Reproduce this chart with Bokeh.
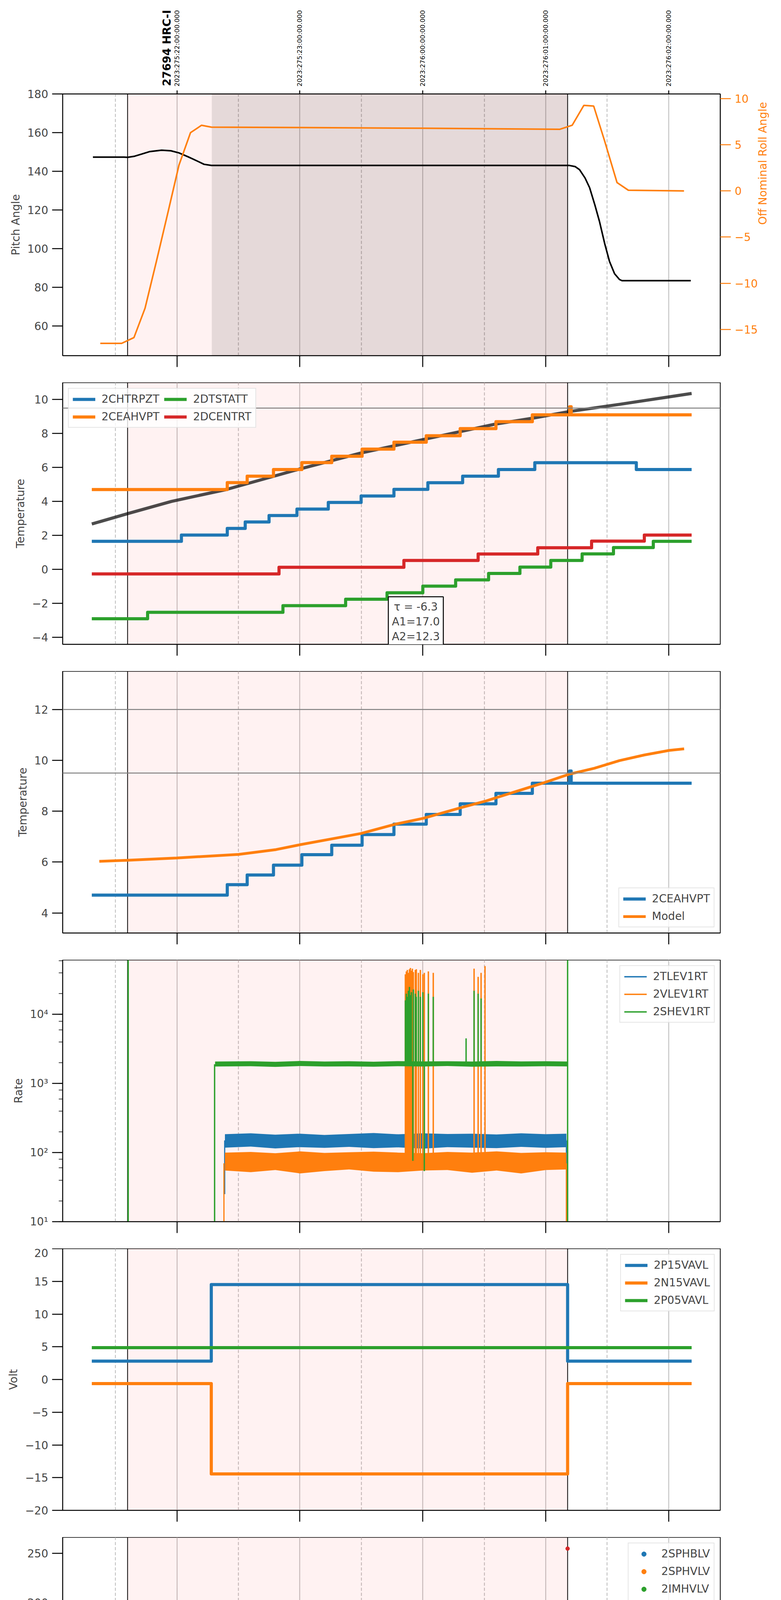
import math
from bokeh.plotting import figure
from bokeh.layouts import column
from bokeh.core.properties import value
from bokeh.models import (Range1d, LinearAxis, LogAxis, FixedTicker, LogTicker, Grid, Span,
                          BoxAnnotation, Legend, LegendItem, Label)
from bokeh.embed import file_html
from bokeh.resources import INLINE

# ---------------------------------------------------------------- data
HOURS = [18, 19, 20, 21, 22]
HALF_HOURS = [17.5, 18.5, 19.5, 20.5, 21.5]
HOUR_LABELS = ["18h", "19h", "20h", "21h", "22h"]
HALF_LABELS = ["30", "30", "30", "30", "30"]
UTC_LABELS = ["2023:275:22:00:00.000", "2023:275:23:00:00.000", "2023:276:00:00:00.000",
              "2023:276:01:00:00.000", "2023:276:02:00:00.000"]
X_LABEL = "2023-10-02 (275)"
OBS_START, OBS_END = 17.598, 21.178
DARK_START = 18.283
OBS_LABEL = "27694 HRC-I"
OBS_LABEL_X = 17.919

pitch_t = [17.316, 17.57, 17.598, 17.65, 17.713, 17.78, 17.875, 17.95, 18.016, 18.09, 18.158, 18.22,
           18.28, 21.193, 21.24, 21.275, 21.32, 21.357, 21.40, 21.437, 21.48, 21.519, 21.56, 21.60,
           21.62, 22.18]
pitch_v = [147.3, 147.3, 147.2, 147.7, 148.9, 150.2, 150.9, 150.6, 149.5, 147.5, 145.5, 143.6,
           143.0, 143.0, 142.4, 140.8, 136.5, 131.5, 122.5, 114.1, 102.5, 93.3, 87.0, 84.0,
           83.4, 83.4]
roll_t = [17.376, 17.55, 17.65, 17.74, 17.833, 17.927, 18.016, 18.11, 18.2, 18.28, 19.0, 20.0,
          21.113, 21.215, 21.31, 21.39, 21.478, 21.58, 21.672, 22.125]
roll_v = [-16.5, -16.5, -15.87, -12.7, -7.6, -2.3, 2.78, 6.3, 7.1, 6.9, 6.85, 6.78,
          6.66, 7.1, 9.25, 9.18, 5.45, 0.9, 0.07, 0.0]
PITCH_TICKS = [60, 80, 100, 120, 140, 160, 180]
ROLL_TICKS = [-15, -10, -5, 0, 5, 10]

model_t = [17.307, 17.599, 17.955, 18.40, 18.968, 19.494, 20.004, 20.587, 20.89, 21.195, 21.60, 22.187]
model_v = [2.67, 3.28, 4.0, 4.7, 5.85, 6.85, 7.65, 8.55, 8.9, 9.3, 9.72, 10.36]
ceahvpt_t = [17.307, 18.409, 18.571, 18.785, 19.016, 19.259, 19.506, 19.765, 20.028, 20.304,
             20.595, 20.891, 21.195, 21.207, 22.187]
ceahvpt_v = [4.70, 5.11, 5.49, 5.88, 6.29, 6.66, 7.08, 7.49, 7.87, 8.29,
             8.70, 9.10, 9.58, 9.10, 9.10]
chtrpzt_t = [17.307, 18.036, 18.409, 18.555, 18.749, 18.976, 19.231, 19.498, 19.765, 20.041,
             20.324, 20.615, 20.911, 21.737, 22.187]
chtrpzt_v = [1.65, 2.02, 2.41, 2.79, 3.17, 3.55, 3.94, 4.32, 4.71, 5.10,
             5.49, 5.88, 6.28, 5.88, 5.88]
dtstatt_t = [17.307, 17.761, 18.862, 19.372, 19.709, 20.000, 20.267, 20.535, 20.790, 21.041,
             21.296, 21.551, 21.875, 22.187]
dtstatt_v = [-2.91, -2.53, -2.14, -1.76, -1.38, -0.99, -0.62, -0.24, 0.13, 0.52,
             0.91, 1.28, 1.65, 1.65]
dcentrt_t = [17.307, 18.830, 19.846, 20.450, 20.935, 21.373, 21.802, 22.187]
dcentrt_v = [-0.27, 0.12, 0.52, 0.90, 1.27, 1.66, 2.02, 2.02]
TEMP_LIMIT = 9.5
FIT_TEXT = "τ = -6.3\nA1=17.0\nA2=12.3"
FIT_X, FIT_Y = 19.943, -1.62
TEMP2_TICKS = [-4, -2, 0, 2, 4, 6, 8, 10]

model3_t = [17.368, 17.599, 17.996, 18.502, 18.806, 19.0, 19.292, 19.494, 19.777, 20.004, 20.304,
            20.506, 20.749, 20.992, 21.195, 21.397, 21.60, 21.802, 22.005, 22.126]
model3_v = [6.03, 6.07, 6.16, 6.30, 6.49, 6.68, 6.94, 7.12, 7.49, 7.72, 8.13,
            8.39, 8.76, 9.13, 9.46, 9.69, 9.99, 10.21, 10.39, 10.45]
TEMP3_LIMITS = [12.0, 9.5]
TEMP3_TICKS = [4, 6, 8, 10, 12]

band_t = [18.39, 18.6, 18.8, 19.0, 19.2, 19.4, 19.6, 19.8, 20.0, 20.2, 20.4, 20.6, 20.8, 21.0, 21.168]
tlev_hi = [185, 190, 182, 188, 180, 186, 192, 184, 190, 186, 188, 183, 190, 185, 188]
tlev_mid = [150, 155, 148, 152, 147, 153, 156, 150, 152, 153, 151, 149, 155, 151, 154]
tlev_lo = [118, 122, 115, 120, 117, 121, 116, 119, 114, 120, 118, 116, 121, 117, 120]
vlev_hi = [100, 102, 98, 104, 99, 101, 103, 100, 98, 102, 100, 104, 99, 101, 100]
vlev_lo = [55, 52, 56, 50, 54, 57, 53, 52, 55, 56, 51, 55, 50, 56, 57]
shev_t = [18.31, 18.6, 18.8, 19.0, 19.2, 19.4, 19.6, 19.8, 20.0, 20.2, 20.4, 20.6, 20.8, 21.0, 21.175]
shev_hi = [2080, 2100, 2060, 2120, 2080, 2100, 2070, 2110, 2090, 2100, 2080, 2120, 2090, 2100, 2080]
shev_lo = [1760, 1780, 1740, 1790, 1760, 1770, 1750, 1780, 1760, 1790, 1750, 1770, 1760, 1780, 1770]
tlev_edge_t = [18.388, 21.168]
tlev_edge_lo = [25, 10]
tlev_edge_hi = [150, 150]
vlev_edge_t = [18.382, 21.168]
vlev_edge_lo = [10, 10]
vlev_edge_hi = [70, 70]
shev_edge_t = [18.306, 17.603, 21.178]
shev_edge_lo = [10, 10, 10]
shev_edge_hi = [1900, 61400, 61400]
vlev_spike_t = [19.858, 19.866, 19.874, 19.882, 19.891, 19.899, 19.907, 19.915, 19.923, 19.939, 19.947,
                19.964, 19.980, 20.000, 20.012, 20.045, 20.085, 20.417, 20.450, 20.474, 20.506]
vlev_spike_hi = [38000, 42000, 44000, 40000, 45000, 47000, 43000, 46000, 41000, 44000, 45000,
                 40000, 44000, 38000, 40000, 42000, 40000, 46000, 35000, 40000, 50000]
shev_spike_t = [19.858, 19.866, 19.874, 19.882, 19.891, 19.899, 19.907, 19.923, 19.939, 19.947,
                19.964, 19.980, 20.000, 20.045, 20.085, 20.352, 20.417, 20.450, 20.474]
shev_spike_hi = [16000, 20000, 18000, 22000, 25000, 19000, 21000, 23000, 20000, 18000,
                 22000, 18000, 21000, 20000, 18000, 4500, 22000, 20000, 17000]
shev_dip_t = [19.919, 20.012]
shev_dip_lo = [76, 54]
RATE_LABELS = {10: "10¹", 100: "10²", 1000: "10³", 10000: "10⁴"}

volt_t = [17.307, 18.279, 21.178, 22.187]
p15_v = [2.81, 14.51, 2.81, 2.81]
n15_v = [-0.62, -14.43, -0.62, -0.62]
p05_t = [17.307, 22.187]
p05_v = [4.86, 4.86]
VOLT_TICKS = [-20, -15, -10, -5, 0, 5, 10, 15, 20]

imhblv_run_t = [18.38, 21.17]
imhblv_run_v = [86.2, 86.2]
imhblv_t = [18.332, 18.332, 18.333, 18.334, 18.338, 18.340, 18.344, 18.348, 18.352, 18.356, 18.36,
            18.366, 18.372, 18.38, 19.858, 19.923, 19.931, 19.980, 20.012, 20.417, 21.178]
imhblv_v = [127, 125, 123, 119, 106, 104, 101, 97, 94, 92, 90, 89, 88, 87,
            78.8, 78.8, 78.8, 78.8, 78.8, 78.8, 255]
imhvlv_run_t = [18.375, 21.17]
imhvlv_run_v = [79.2, 79.2]
imhvlv_t = [18.332, 18.334, 18.338, 18.344, 18.350, 18.356, 18.362, 18.37,
            19.866, 19.923, 19.931, 19.980, 20.020, 20.425]
imhvlv_v = [100, 96, 91.5, 88, 85, 83, 81, 80, 127, 127, 127, 127, 127, 127]
# 2SPHBLV / 2SPHVLV lie hidden beneath the 2IMHVLV band
sphblv_t = [18.6, 19.4, 20.2, 21.0]
sphblv_v = [79.2, 79.2, 79.2, 79.2]
sphvlv_t = [18.6, 19.4, 20.2, 21.0]
sphvlv_v = [79.2, 79.2, 79.2, 79.2]
HV_TICKS = [0, 50, 100, 150, 200, 250]

spinatm_t = [18.299, 18.340, 19.308, 19.858, 19.891, 19.939, 19.988, 20.012, 20.045, 20.417, 20.433,
             20.466, 20.506, 20.547, 21.093, 21.166]
spinatm_v = [1.96, 2.38, 2.84, -1.0, 2.84, -1.0, 3.26, -1.0, 3.26, -1.0, 3.26,
             -1.0, 3.26, 3.71, 4.18, 4.18]
sphvatm_t = [18.279, 18.498, 18.506, 18.567, 18.575, 18.745, 19.081, 19.344, 19.595, 19.850, 19.866,
             19.874, 19.891, 19.899, 19.915, 19.923, 19.931, 19.947, 19.964, 19.992, 20.000, 20.008,
             20.016, 20.024, 20.032, 20.061, 20.312, 20.413, 20.421, 20.462, 20.470, 20.498, 20.506,
             20.547, 20.802, 21.041, 21.166]
sphvatm_v = [14.17, 14.49, 14.17, 14.49, 14.17, 14.45, 14.73, 15.01, 15.26, 10.86, 15.57,
             10.86, 15.57, 10.86, -1.0, 10.86, 15.57, 10.86, 15.57, 11.0, 15.57, -1.0,
             15.57, 11.0, 15.57, 15.85, 16.11, 11.35, 16.11, 11.63, 16.11, 11.63, 16.11,
             16.39, 16.67, 16.98, 16.98]
iminatm_t = [18.279, 18.757, 19.680, 19.858, 19.866, 19.874, 19.883, 19.939, 19.947, 19.956, 19.964,
             19.972, 19.980, 19.990, 20.000, 20.012, 20.020, 20.030, 20.045, 20.417, 20.429, 20.466,
             20.474, 21.061, 21.166]
iminatm_v = [0.66, 1.06, 1.51, 3.34, 1.51, 3.34, 1.51, 3.34, 1.51, 3.34, 1.51,
             3.34, 1.51, 3.34, 1.51, 3.34, 1.51, 3.34, 1.51, 3.34, 1.96, 3.34,
             1.96, 2.38, 2.38]
imhvatm_t = [18.275, 18.279, 18.474, 18.575, 18.664, 18.769, 18.878, 19.008, 19.129, 19.279, 19.437,
             19.603, 19.777, 19.858, 19.866, 19.882, 19.899, 19.915, 19.931, 19.947, 19.964, 19.980,
             19.992, 20.012, 20.020, 20.162, 20.364, 20.417, 20.425, 20.466, 20.474, 20.498, 20.506,
             20.595, 20.838, 21.081, 21.170, 21.186, 21.19]
imhvatm_v = [-1.0, 13.6, 13.88, 14.17, 14.42, 14.73, 15.01, 15.26, 15.57, 15.83, 16.11,
             16.39, 16.67, 15.5, 16.67, 15.5, 16.67, 15.5, 16.67, 15.5, 16.98, 15.5,
             16.98, 15.5, 16.98, 17.26, 17.54, 16.1, 17.54, 16.1, 17.54, 16.1, 17.54,
             17.82, 18.10, 18.41, 20.0, -1.0, -1.0]
DET_TICKS = [0.0, 2.5, 5.0, 7.5, 10.0, 12.5, 15.0, 17.5]

fhtrmzt_t = [17.307, 18.409, 18.433, 18.441, 18.583, 18.725, 18.757, 18.765, 18.854, 18.911, 18.919,
             18.996, 19.134, 19.283, 19.429, 19.575, 19.733, 19.891, 20.045, 20.150, 20.158, 20.207,
             20.377, 20.547, 20.725, 20.903, 21.089, 21.664, 21.891, 22.114, 22.187]
fhtrmzt_v = [-4.04, -3.65, -5.8, -3.65, -3.28, -2.89, -1.34, -2.89, -2.50, -4.0, -2.50,
             -2.12, -1.74, -1.37, -1.0, -0.61, -0.24, 0.13, 0.51, 2.83, 0.51, 0.89,
             1.27, 1.64, 2.03, 2.41, 2.78, 2.41, 2.03, 1.64, 1.64]
fradpyt_t = [17.307, 17.692, 17.858, 18.032, 18.249, 18.433, 18.603, 18.757, 18.903, 19.057, 19.210,
             19.364, 19.534, 19.696, 19.858, 20.061, 20.215, 20.393, 20.595, 20.782, 20.980, 21.186,
             21.316, 21.498, 21.628, 21.782, 21.936, 22.114, 22.187]
fradpyt_v = [-4.81, -4.42, -4.81, -5.18, -5.8, -5.18, -4.81, -4.42, -4.03, -3.65, -3.28,
             -2.89, -2.50, -2.12, -1.74, -1.37, -1.0, -0.61, -0.24, 0.14, 0.52, 0.89,
             0.52, 0.14, -0.24, -0.61, -1.0, -1.37, -1.37]
fepratm_t = [18.279, 18.320, 18.368, 18.421, 18.474, 18.563, 18.652, 18.765, 18.899, 19.024, 19.178,
             19.332, 19.494, 19.664, 19.850, 19.858, 19.866, 19.874, 19.882, 19.891, 19.939, 19.947,
             19.956, 19.964, 19.972, 19.980, 20.000, 20.008, 20.016, 20.024, 20.032, 20.040, 20.215,
             20.410, 20.425, 20.462, 20.478, 20.628, 20.838, 21.061, 21.166]
fepratm_v = [-3.08, -2.61, -2.23, -1.78, -1.38, -1.0, -0.59, -0.21, 0.26, 0.66, 1.09,
             1.51, 1.92, 2.37, -4.61, 2.8, -4.61, 2.8, -4.61, 2.8, -4.61, 2.8,
             -4.61, 2.8, -4.61, 2.8, -4.61, 2.8, -4.61, 3.24, -4.61, 3.24, 3.70,
             -4.61, 4.15, -4.61, 4.15, 4.60, 5.06, 5.47, 5.47]
fe00atm_t = [18.275, 18.279, 18.384, 18.392, 18.461, 18.563, 18.599, 18.607, 18.652, 18.757, 18.846,
             18.911, 18.919, 18.939, 19.028, 19.138, 19.259, 19.364, 19.409, 19.417, 19.482, 19.599,
             19.717, 19.842, 19.850, 19.858, 19.866, 19.874, 19.882, 19.891, 19.899, 19.915, 19.923,
             19.931, 19.939, 19.947, 19.956, 19.964, 19.972, 19.980, 19.988, 20.008, 20.016, 20.024,
             20.032, 20.040, 20.048, 20.061, 20.150, 20.158, 20.215, 20.350, 20.417, 20.425, 20.466,
             20.478, 20.506, 20.628, 20.665, 20.673, 20.765, 20.911, 21.061, 21.170, 21.186, 21.19]
fe00atm_v = [-6.0, -1.46, -1.10, -1.46, -1.10, -0.78, -0.10, -0.78, -0.44, -0.14, 0.18,
             1.10, 0.18, 0.49, 0.82, 1.13, 1.43, 1.73, 0.80, 1.73, 2.05, 2.35,
             2.66, 2.96, 6.5, 2.96, 6.5, 2.96, 6.5, 2.96, 6.5, -6.0, 6.5,
             2.96, 6.5, 2.96, 6.5, 2.96, 6.5, 2.96, 6.5, -6.0, 6.5, 3.0,
             6.5, 3.2, 6.5, 3.56, 3.90, 3.56, 3.86, 4.15, 6.5, 4.15, 6.5,
             4.15, 4.45, 4.71, 5.30, 4.71, 5.0, 5.30, 5.60, 6.5, -6.0, -6.0]
FEA_TICKS = [-4, -2, 0, 2, 4]

# ---------------------------------------------------------------- styling helpers
BLUE, ORANGE, GREEN, RED = "#1f77b4", "#ff7f0e", "#2ca02c", "#d62728"
FONT = "DejaVu Sans"
FRAME_W, FRAME_H = 1684, 670
HEADER_H = 224
HEADER_TEXT_Y = 3
X_RANGE = Range1d(17.07, 22.42)


def fmt(v, nd=0):
    return (f"{v:.{nd}f}").replace("-", "\u2212")


def base_fig(y_range, top=0, bottom=69, log=False):
    p = figure(frame_width=FRAME_W, frame_height=FRAME_H, x_range=X_RANGE, y_range=y_range,
               y_axis_type="log" if log else "linear", x_axis_location=None, y_axis_location=None,
               output_backend="svg", toolbar_location=None,
               min_border_left=160, min_border_right=140, min_border_top=top, min_border_bottom=bottom)
    p.outline_line_color = "black"
    p.outline_line_width = 2
    p.outline_line_alpha = 1.0
    for g in p.grid:
        g.visible = False
    p.add_layout(Grid(dimension=0, ticker=FixedTicker(ticks=HOURS),
                      grid_line_color="#b8b8b8", grid_line_width=2))
    p.add_layout(Grid(dimension=0, ticker=FixedTicker(ticks=HALF_HOURS),
                      grid_line_color="#b8b8b8", grid_line_width=2, grid_line_dash="8 5"))
    p.add_layout(BoxAnnotation(left=OBS_START, right=OBS_END, fill_color="red", fill_alpha=0.05,
                               line_color=None, level="underlay"))
    for loc in (OBS_START, OBS_END):
        p.add_layout(Span(location=loc, dimension="height", line_color="black", line_width=2,
                          level="underlay"))
    return p


def style_axis(ax, tick_out=27):
    ax.axis_line_color = "black"
    ax.axis_line_width = 2
    ax.major_tick_out = tick_out
    ax.major_tick_in = 0
    ax.major_tick_line_width = 2.5
    ax.major_tick_line_color = "black"
    ax.minor_tick_line_color = None
    ax.major_label_text_font = FONT
    ax.major_label_text_font_size = "28px"
    ax.major_label_standoff = 10
    ax.axis_label_text_font = FONT
    ax.axis_label_text_font_size = "28px"
    ax.axis_label_text_font_style = "normal"
    ax.axis_label_standoff = 10


def add_yaxis(p, label, ticks=None, nd=0, log=False):
    if log:
        ax = LogAxis(ticker=LogTicker(), major_label_overrides=RATE_LABELS)
    else:
        ax = LinearAxis(ticker=FixedTicker(ticks=ticks),
                        major_label_overrides={t: fmt(t, nd) for t in ticks})
    ax.axis_label = label
    style_axis(ax)
    if log:
        ax.minor_tick_line_color = "black"
        ax.minor_tick_out = 10
        ax.minor_tick_in = 0
        ax.minor_tick_line_width = 1.6
    p.add_layout(ax, "left")
    return ax


def tick_only_axis(tick_len):
    # hour ticks without any labels (shared time axis)
    ax = LinearAxis(ticker=FixedTicker(ticks=[], minor_ticks=HOURS))
    style_axis(ax, tick_out=0)
    ax.minor_tick_line_color = "black"
    ax.minor_tick_out = tick_len
    ax.minor_tick_in = 0
    ax.minor_tick_line_width = 2.5
    ax.major_label_standoff = 0
    return ax


def add_legend(p, items, location, ncols=None):
    leg = Legend(items=[LegendItem(label=l, renderers=[r]) for l, r in items], location=location)
    leg.label_text_font = FONT
    leg.label_text_font_size = "28px"
    leg.glyph_width = 58
    leg.glyph_height = 30
    leg.label_height = 30
    leg.spacing = 12
    leg.padding = 10
    leg.margin = 14
    leg.label_standoff = 16
    leg.border_line_color = "#cccccc"
    leg.border_line_width = 2
    leg.background_fill_alpha = 0.8
    if ncols:
        leg.ncols = ncols
    p.add_layout(leg)


def steps(p, t, v, color):
    return p.step(t, v, mode="after", line_color=color, line_width=8, line_join="round")


# ---------------------------------------------------------------- header (UTC labels + obsid)
p0 = figure(frame_width=FRAME_W, frame_height=HEADER_H, x_range=X_RANGE, y_range=Range1d(0, HEADER_H),
            x_axis_location=None, y_axis_location=None, output_backend="svg", toolbar_location=None,
            min_border_left=160, min_border_right=140, min_border_top=0, min_border_bottom=0)
p0.outline_line_color = None
for g in p0.grid:
    g.visible = False
p0.text(x=HOURS, y=[HEADER_TEXT_Y] * len(HOURS), text=UTC_LABELS, angle=math.pi / 2,
        text_align="left", text_baseline="middle", text_font=value(FONT), text_font_size="16.5px",
        text_color="black")
p0.text(x=[OBS_LABEL_X], y=[HEADER_TEXT_Y + 1], text=[OBS_LABEL], angle=math.pi / 2,
        text_align="left", text_baseline="alphabetic", text_font=value(FONT), text_font_size="28px",
        text_font_style="bold", text_color="black")

# ---------------------------------------------------------------- panel 1
p1 = base_fig(Range1d(44.6, 180), top=16)
p1.add_layout(BoxAnnotation(left=DARK_START, right=OBS_END, fill_color="black", fill_alpha=0.1,
                            line_color=None, level="underlay"))
p1.extra_y_ranges = {"roll": Range1d(-17.83, 10.49)}
add_yaxis(p1, "Pitch Angle", PITCH_TICKS)
rax = LinearAxis(y_range_name="roll", ticker=FixedTicker(ticks=ROLL_TICKS),
                 major_label_overrides={t: fmt(t) for t in ROLL_TICKS})
rax.axis_label = "Off Nominal Roll Angle"
style_axis(rax)
rax.major_tick_line_color = ORANGE
rax.major_label_text_color = ORANGE
rax.axis_label_text_color = ORANGE
rax.axis_label_orientation = math.pi / 2
p1.add_layout(rax, "right")
p1.add_layout(tick_only_axis(9), "above")
p1.add_layout(tick_only_axis(29), "below")
p1.line(pitch_t, pitch_v, line_color="black", line_width=4)
p1.line(roll_t, roll_v, line_color=ORANGE, line_width=4, y_range_name="roll")

# ---------------------------------------------------------------- panel 2
p2 = base_fig(Range1d(-4.42, 11.0))
add_yaxis(p2, "Temperature", TEMP2_TICKS)
p2.add_layout(tick_only_axis(29), "below")
p2.add_layout(Span(location=TEMP_LIMIT, dimension="width", line_color="gray", line_width=2.5))
p2.line(model_t, model_v, line_color="black", line_alpha=0.7, line_width=8)
r_ch = steps(p2, chtrpzt_t, chtrpzt_v, BLUE)
r_ce = steps(p2, ceahvpt_t, ceahvpt_v, ORANGE)
r_dt = steps(p2, dtstatt_t, dtstatt_v, GREEN)
r_dc = steps(p2, dcentrt_t, dcentrt_v, RED)
add_legend(p2, [("2CHTRPZT", r_ch), ("2CEAHVPT", r_ce), ("2DTSTATT", r_dt), ("2DCENTRT", r_dc)],
           "top_left", ncols=2)
p2.add_layout(Label(x=FIT_X, y=FIT_Y, text=FIT_TEXT, text_align="center", text_baseline="top",
                    text_font=FONT, text_font_size="28px", text_line_height=1.15,
                    border_line_color="black", border_line_width=2.5,
                    background_fill_color="white", padding=9))

# ---------------------------------------------------------------- panel 3
p3 = base_fig(Range1d(3.21, 13.5))
add_yaxis(p3, "Temperature", TEMP3_TICKS)
p3.add_layout(tick_only_axis(29), "below")
for lim in TEMP3_LIMITS:
    p3.add_layout(Span(location=lim, dimension="width", line_color="gray", line_width=2.5))
r3a = steps(p3, ceahvpt_t, ceahvpt_v, BLUE)
r3b = p3.line(model3_t, model3_v, line_color=ORANGE, line_width=7)
add_legend(p3, [("2CEAHVPT", r3a), ("Model", r3b)], "bottom_right")

# ---------------------------------------------------------------- panel 4
p4 = base_fig(Range1d(10, 61400), log=True)
add_yaxis(p4, "Rate", log=True)
p4.add_layout(tick_only_axis(29), "below")
p4.varea(x=band_t, y1=tlev_lo, y2=tlev_hi, fill_color=BLUE)
p4.segment(x0=tlev_edge_t, y0=tlev_edge_lo, x1=tlev_edge_t, y1=tlev_edge_hi, line_color=BLUE, line_width=3)
r4a = p4.line(band_t, tlev_mid, line_color=BLUE, line_width=3.5)
p4.varea(x=band_t, y1=vlev_lo, y2=vlev_hi, fill_color=ORANGE)
p4.segment(x0=vlev_edge_t, y0=vlev_edge_lo, x1=vlev_edge_t, y1=vlev_edge_hi, line_color=ORANGE, line_width=3)
r4b = p4.segment(x0=vlev_spike_t, y0=[70] * len(vlev_spike_t), x1=vlev_spike_t, y1=vlev_spike_hi,
                 line_color=ORANGE, line_width=3.5)
p4.varea(x=shev_t, y1=shev_lo, y2=shev_hi, fill_color=GREEN)
p4.segment(x0=shev_edge_t, y0=shev_edge_lo, x1=shev_edge_t, y1=shev_edge_hi, line_color=GREEN, line_width=3.5)
r4c = p4.segment(x0=shev_spike_t, y0=[1900] * len(shev_spike_t), x1=shev_spike_t, y1=shev_spike_hi,
                 line_color=GREEN, line_width=3.5)
p4.segment(x0=shev_dip_t, y0=[1900] * len(shev_dip_t), x1=shev_dip_t, y1=shev_dip_lo,
           line_color=GREEN, line_width=3.5)
add_legend(p4, [("2TLEV1RT", r4a), ("2VLEV1RT", r4b), ("2SHEV1RT", r4c)], "top_right")

# ---------------------------------------------------------------- panel 5
p5 = base_fig(Range1d(-20, 20))
add_yaxis(p5, "Volt", VOLT_TICKS)
p5.add_layout(tick_only_axis(29), "below")
r5a = steps(p5, volt_t, p15_v, BLUE)
r5b = steps(p5, volt_t, n15_v, ORANGE)
r5c = steps(p5, p05_t, p05_v, GREEN)
add_legend(p5, [("2P15VAVL", r5a), ("2N15VAVL", r5b), ("2P05VAVL", r5c)], "top_right")

# ---------------------------------------------------------------- panel 6
p6 = base_fig(Range1d(0, 266.5))
add_yaxis(p6, "HV Monitor", HV_TICKS)
p6.add_layout(tick_only_axis(29), "below")
r6a = p6.scatter(sphblv_t, sphblv_v, size=10, color=BLUE)
r6b = p6.scatter(sphvlv_t, sphvlv_v, size=10, color=ORANGE)
p6.line(imhvlv_run_t, imhvlv_run_v, line_color=GREEN, line_width=11, line_cap="round")
r6c = p6.scatter(imhvlv_t, imhvlv_v, size=10, color=GREEN)
p6.line(imhblv_run_t, imhblv_run_v, line_color=RED, line_width=11, line_cap="round")
r6d = p6.scatter(imhblv_t, imhblv_v, size=10, color=RED)
add_legend(p6, [("2SPHBLV", r6a), ("2SPHVLV", r6b), ("2IMHVLV", r6c), ("2IMHBLV", r6d)], "top_right")

# ---------------------------------------------------------------- panel 7
p7 = base_fig(Range1d(-0.40, 19.04))
add_yaxis(p7, "Detector Temp", DET_TICKS, nd=1)
p7.add_layout(tick_only_axis(29), "below")
r7a = steps(p7, spinatm_t, spinatm_v, BLUE)
r7b = steps(p7, sphvatm_t, sphvatm_v, ORANGE)
r7c = steps(p7, iminatm_t, iminatm_v, GREEN)
r7d = steps(p7, imhvatm_t, imhvatm_v, RED)
add_legend(p7, [("2SPINATM", r7a), ("2SPHVATM", r7b), ("2IMINATM", r7c), ("2IMHVATM", r7d)], "top_right")

# ---------------------------------------------------------------- panel 8
p8 = base_fig(Range1d(-5.53, 5.65), bottom=90)
add_yaxis(p8, "FEA Temp", FEA_TICKS)
axA = LinearAxis(ticker=FixedTicker(ticks=HALF_HOURS, minor_ticks=HOURS),
                 major_label_overrides=dict(zip(HALF_HOURS, HALF_LABELS)))
style_axis(axA, tick_out=0)
axA.minor_tick_line_color = "black"
axA.minor_tick_out = 29
axA.minor_tick_in = 0
axA.minor_tick_line_width = 2.5
axA.major_label_text_font_size = "16.5px"
axA.major_label_standoff = -23
p8.add_layout(axA, "below")
axB = LinearAxis(ticker=FixedTicker(ticks=HOURS), major_label_overrides=dict(zip(HOURS, HOUR_LABELS)))
style_axis(axB, tick_out=0)
axB.axis_line_color = None
axB.major_tick_line_color = None
axB.major_label_standoff = 7
axB.axis_label = X_LABEL
axB.axis_label_text_font_size = "32px"
axB.axis_label_standoff = 1
p8.add_layout(axB, "below")
r8a = steps(p8, fhtrmzt_t, fhtrmzt_v, BLUE)
r8b = steps(p8, fradpyt_t, fradpyt_v, ORANGE)
r8c = steps(p8, fepratm_t, fepratm_v, GREEN)
r8d = steps(p8, fe00atm_t, fe00atm_v, RED)
add_legend(p8, [("2FHTRMZT", r8a), ("2FRADPYT", r8b), ("2FEPRATM", r8c), ("2FE00ATM", r8d)], "bottom_right")

layout = column(p0, p1, p2, p3, p4, p5, p6, p7, p8, spacing=0)
open("out.html", "w").write(file_html(layout, INLINE))
